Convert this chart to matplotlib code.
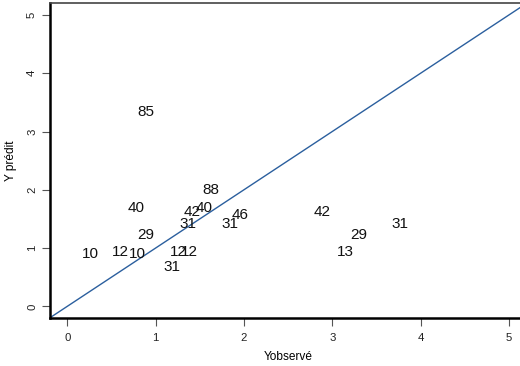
import numpy as np
import matplotlib
matplotlib.use("Agg")
import matplotlib.pyplot as plt

plt.rcParams['font.family'] = ['Liberation Sans', 'DejaVu Sans']

# observed vs predicted, each point drawn as its identifier
y_obs = [0.895, 1.63, 0.78, 1.41, 1.55, 1.96, 1.37, 1.84, 0.89,
         0.265, 0.60, 0.79, 1.26, 1.38, 1.18, 2.89, 3.77, 3.30, 3.15]
y_pred = [3.34, 2.00, 1.68, 1.62, 1.68, 1.57, 1.41, 1.41, 1.23,
          0.89, 0.93, 0.89, 0.93, 0.93, 0.67, 1.62, 1.41, 1.23, 0.93]
ids = ['85', '88', '40', '42', '40', '46', '31', '31', '29',
       '10', '12', '10', '12', '12', '31', '42', '31', '29', '13']

fig = plt.figure(figsize=(5.2, 3.66), dpi=100)
ax = fig.add_axes([49.6 / 520, 48 / 366, 477 / 520, 314.7 / 366])

for x, y, s in zip(y_obs, y_pred, ids):
    ax.text(x, y, s, fontsize=11, ha='center', va='center', color='#111111')

# y = x reference line
ax.plot([-0.2, 5.2], [-0.2, 5.2], color='#2b5f9e', lw=1.0)

ax.set_xlim(-0.2, 5.2)
ax.set_ylim(-0.2, 5.2)
ax.set_xticks(range(6))
ax.set_yticks(range(6))
ax.tick_params(direction='out', length=6, width=0.8, color='#555555',
               labelsize=8.2, labelcolor='#222222')
ax.tick_params(axis='x', pad=4.5)
ax.tick_params(axis='y', pad=3)
plt.setp(ax.get_yticklabels(), rotation=90, va='center')

for side in ['left', 'bottom']:
    ax.spines[side].set_linewidth(1.8)
    ax.spines[side].set_color('black')
ax.spines['top'].set_linewidth(1.2)
ax.spines['top'].set_color('#444444')
ax.spines['right'].set_visible(False)

ax.set_xlabel('Yobservé', fontsize=8.6, labelpad=6)
ax.set_ylabel('Y prédit', fontsize=8.6, labelpad=7)

fig.savefig('out.png', dpi=100)
